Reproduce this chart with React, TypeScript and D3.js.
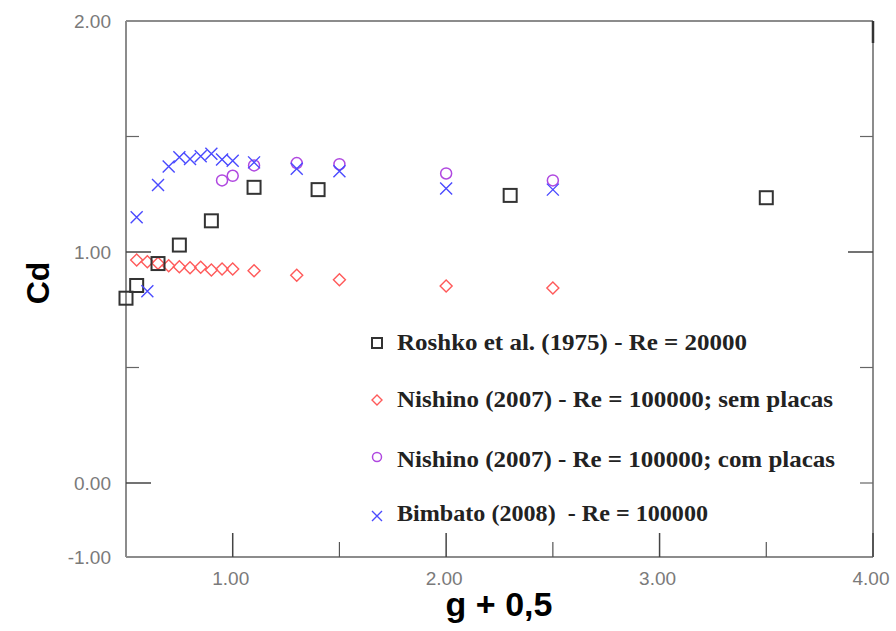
import React from "react";
import * as d3 from "d3";

// ---- data ----
const roshkoX = [0.5, 0.55, 0.65, 0.75, 0.9, 1.1, 1.4, 2.3, 3.5];
const roshkoY = [0.8, 0.855, 0.95, 1.03, 1.135, 1.28, 1.27, 1.245, 1.235];

const semX = [0.55, 0.6, 0.65, 0.7, 0.75, 0.8, 0.85, 0.9, 0.95, 1.0, 1.1, 1.3, 1.5, 2.0, 2.5];
const semY = [0.965, 0.958, 0.951, 0.94, 0.936, 0.932, 0.934, 0.922, 0.926, 0.926, 0.919, 0.899, 0.88, 0.853, 0.844];

const comX = [0.95, 1.0, 1.1, 1.3, 1.5, 2.0, 2.5];
const comY = [1.31, 1.33, 1.375, 1.385, 1.38, 1.34, 1.31];

const bimX = [0.55, 0.6, 0.65, 0.7, 0.75, 0.8, 0.85, 0.9, 0.95, 1.0, 1.1, 1.3, 1.5, 2.0, 2.5];
const bimY = [1.15, 0.83, 1.29, 1.37, 1.41, 1.403, 1.415, 1.425, 1.4, 1.395, 1.388, 1.36, 1.35, 1.275, 1.27];

const xTicksMajor = [1, 2, 3, 4];
const xTicksMinor = [1.5, 2.5, 3.5];
const xTickLabels = ["1.00", "2.00", "3.00", "4.00"];
const yTicksMajor = [-1, 0, 1, 2];
const yTickLabels = ["-1.00", "0.00", "1.00", "2.00"];
const yTicksMinor = [0.5, 1.5];

const legendLabels = [
  "Roshko et al. (1975) - Re = 20000",
  "Nishino (2007) - Re = 100000; sem placas",
  "Nishino (2007) - Re = 100000; com placas",
  "Bimbato (2008)  - Re = 100000",
];
const legendWidths = [350, 436, 438, 311];

const COL_SQ = "#333333";
const COL_DI = "#ff5a5a";
const COL_CI = "#b048e0";
const COL_X = "#4a4aff";

const L = 126, R = 873, T = 21, B = 557;

export default function App() {
  const x = d3.scaleLinear().domain([0.5, 4]).range([L, R]);
  const y = d3.scaleLinear().domain([-1, 0, 2]).range([B, 483, T]);

  const square = (cx: number, cy: number, s: number, k: string) => (
    <rect key={k} x={cx - s / 2} y={cy - s / 2} width={s} height={s} fill="none" stroke={COL_SQ} strokeWidth={2} />
  );
  const diamond = (cx: number, cy: number, s: number, k: string) => (
    <path key={k} d={`M${cx - s / 2},${cy}L${cx},${cy - s / 2}L${cx + s / 2},${cy}L${cx},${cy + s / 2}Z`} fill="none" stroke={COL_DI} strokeWidth={1.4} />
  );
  const circle = (cx: number, cy: number, r: number, k: string) => (
    <circle key={k} cx={cx} cy={cy} r={r} fill="none" stroke={COL_CI} strokeWidth={1.5} />
  );
  const cross = (cx: number, cy: number, s: number, k: string) => (
    <path key={k} d={`M${cx - s / 2},${cy - s / 2}L${cx + s / 2},${cy + s / 2}M${cx - s / 2},${cy + s / 2}L${cx + s / 2},${cy - s / 2}`} fill="none" stroke={COL_X} strokeWidth={1.4} />
  );

  const axisCol = "#8c8c8c";
  const tickFont = "Arial, 'Liberation Sans', sans-serif";

  return (
    <svg width={896} height={631} style={{ position: "absolute", left: 0, top: 0, background: "#fff" }}>
      <rect x={0} y={0} width={896} height={631} fill="#fff" />
      {/* frame */}
      <line x1={L} y1={T} x2={R} y2={T} stroke={axisCol} strokeWidth={2} />
      <line x1={R} y1={T} x2={R} y2={B} stroke={axisCol} strokeWidth={2} />
      <line x1={L} y1={T} x2={L} y2={B} stroke={axisCol} strokeWidth={2} />
      <line x1={L} y1={B} x2={R} y2={B} stroke={axisCol} strokeWidth={2} />

      {/* bottom ticks */}
      {xTicksMajor.map((v) => (
        <line key={"xm" + v} x1={x(v)} x2={x(v)} y1={B} y2={B - 24} stroke="#444" strokeWidth={1.5} />
      ))}
      {xTicksMinor.map((v) => (
        <line key={"xn" + v} x1={x(v)} x2={x(v)} y1={B} y2={B - 15} stroke="#555" strokeWidth={1.2} />
      ))}
      <line x1={x(4)} x2={x(4)} y1={T} y2={T + 22} stroke="#333" strokeWidth={2.5} />
      {xTicksMajor.map((v, i) => (
        <text key={"xl" + v} x={x(v) - 2} y={B + 28} textAnchor="middle" fontFamily={tickFont} fontSize={19} fill="#7a7a7a">
          {xTickLabels[i]}
        </text>
      ))}

      {/* left ticks */}
      {yTicksMajor.filter((v) => v >= 0 && v < 2).map((v) => (
        <line key={"ym" + v} x1={L} x2={L + 25} y1={y(v)} y2={y(v)} stroke="#444" strokeWidth={1.5} />
      ))}
      {yTicksMinor.map((v) => (
        <line key={"yn" + v} x1={L} x2={L + 13} y1={y(v)} y2={y(v)} stroke="#666" strokeWidth={1.2} />
      ))}
      {/* right ticks */}
      <line x1={R} x2={R - 25} y1={y(1)} y2={y(1)} stroke="#444" strokeWidth={1.5} />
      {[0, 0.5, 1.5].map((v) => (
        <line key={"yr" + v} x1={R} x2={R - 13} y1={y(v)} y2={y(v)} stroke="#666" strokeWidth={1.2} />
      ))}
      {yTicksMajor.map((v, i) => (
        <text key={"yl" + v} x={111} y={y(v) + 7} textAnchor="end" fontFamily={tickFont} fontSize={19} fill="#7a7a7a">
          {yTickLabels[i]}
        </text>
      ))}

      {/* axis titles */}
      <text x={0} y={0} transform={`translate(49,283) rotate(-90)`} textAnchor="middle" fontFamily={tickFont} fontWeight="bold" fontSize={32} fill="#000">
        Cd
      </text>
      <text x={499} y={616} textAnchor="middle" fontFamily={tickFont} fontWeight="bold" fontSize={34} fill="#000">
        g + 0,5
      </text>

      {/* data */}
      {semX.map((v, i) => diamond(x(v), y(semY[i]), 12, "d" + i))}
      {roshkoX.map((v, i) => square(x(v), y(roshkoY[i]), 13, "s" + i))}
      {comX.map((v, i) => circle(x(v), y(comY[i]), 5.5, "c" + i))}
      {bimX.map((v, i) => cross(x(v), y(bimY[i]), 12, "x" + i))}

      {/* legend */}
      {square(377, 343, 10, "ls")}
      {diamond(377, 400, 10, "ld")}
      {circle(377, 457, 4.5, "lc")}
      {cross(377, 516, 10, "lx")}
      {legendLabels.map((t, i) => (
        <text key={"lg" + i} x={397} y={[350, 407, 467, 521][i]} textLength={legendWidths[i]} lengthAdjust="spacingAndGlyphs" fontFamily="'Liberation Serif', 'Times New Roman', serif" fontWeight="bold" fontSize={24} fill="#222" xmlSpace="preserve" style={{ whiteSpace: "pre" }}>
          {t}
        </text>
      ))}
    </svg>
  );
}
